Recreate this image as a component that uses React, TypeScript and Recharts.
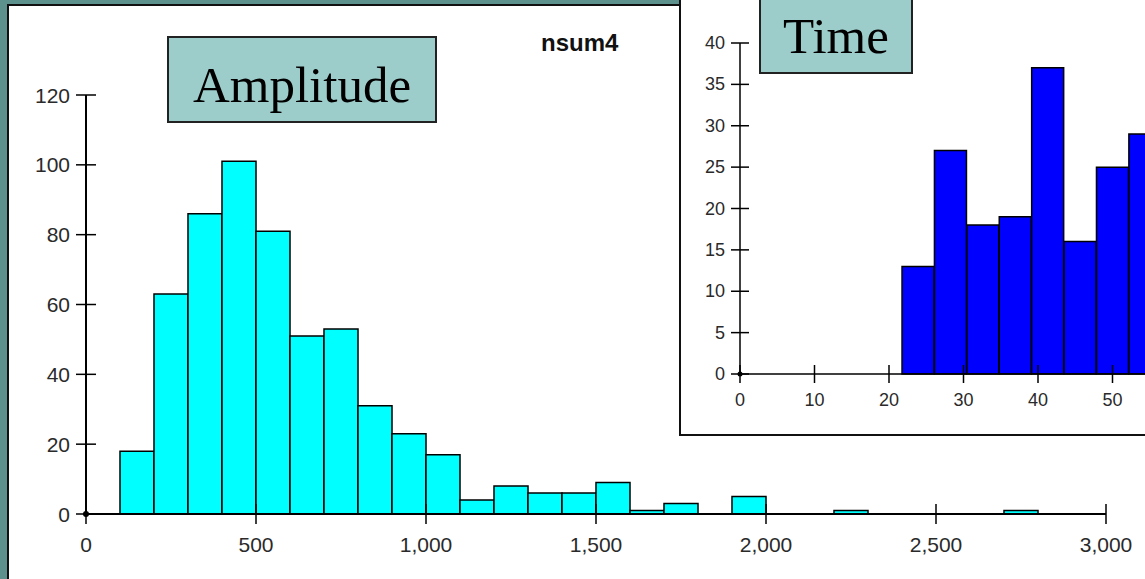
import { ComposedChart, Bar, XAxis, YAxis, ReferenceDot } from "recharts";

// Amplitude histogram (nsum4), bins of 100
const ampBinStart = [
  0, 100, 200, 300, 400, 500, 600, 700, 800, 900,
  1000, 1100, 1200, 1300, 1400, 1500, 1600, 1700, 1800, 1900,
  2000, 2100, 2200, 2300, 2400, 2500, 2600, 2700, 2800, 2900,
];
const ampCounts = [
  0, 18, 63, 86, 101, 81, 51, 53, 31, 23,
  17, 4, 8, 6, 6, 9, 1, 3, 0, 5,
  0, 0, 1, 0, 0, 0, 0, 1, 0, 0,
];
const AMP_BIN = 100;
const ampXTicks = [0, 500, 1000, 1500, 2000, 2500, 3000];
const ampYTicks = [0, 20, 40, 60, 80, 100, 120];

// Time histogram (inset)
const timeBinStart = [21.75, 26.1, 30.45, 34.8, 39.15, 43.5, 47.85, 52.2];
const timeCounts = [13, 27, 18, 19, 37, 16, 25, 29];
const TIME_BIN = 4.35;
const timeXTicks = [0, 10, 20, 30, 40, 50];
const timeYTicks = [0, 5, 10, 15, 20, 25, 30, 35, 40];

const ampData = ampBinStart.map((s, i) => ({ mid: s + AMP_BIN / 2, count: ampCounts[i] }));
const timeData = timeBinStart.map((s, i) => ({ mid: s + TIME_BIN / 2, count: timeCounts[i] }));

const TEAL = "#5c918e";
const BOX = "#9dcdcb";
const TICK_FONT = "'Liberation Sans', Arial, sans-serif";

const fmt = (v: number) => v.toLocaleString("en-US");

function makeXTick(len: number, dy: number, fs: number) {
  return (p: any) => (
    <g>
      <line x1={p.x} x2={p.x} y1={p.y - len} y2={p.y + len} stroke="#000" strokeWidth={1.5} />
      <text x={p.x} y={p.y + dy} textAnchor="middle" dominantBaseline="central" fontSize={fs} fontFamily={TICK_FONT} fill="#2a2a2a">
        {fmt(p.payload.value)}
      </text>
    </g>
  );
}

function makeYTick(len: number, dx: number, fs: number) {
  return (p: any) => (
    <g>
      <line x1={p.x - len} x2={p.x + len} y1={p.y} y2={p.y} stroke="#000" strokeWidth={1.5} />
      <text x={p.x - dx} y={p.y} textAnchor="end" dominantBaseline="central" fontSize={fs} fontFamily={TICK_FONT} fill="#2a2a2a">
        {fmt(p.payload.value)}
      </text>
    </g>
  );
}

function LabelBox({ left, top, width, height, text, baseline }: any) {
  return (
    <div
      style={{
        position: "absolute", left, top, width, height, boxSizing: "border-box",
        background: BOX, border: "2px solid #222",
      }}
    >
      <svg width={width} height={height} style={{ position: "absolute", left: -2, top: -2 }}>
        <text x={width / 2} y={baseline} textAnchor="middle" fontSize={51} fontFamily="'Liberation Serif', 'Times New Roman', serif" fill="#000">
          {text}
        </text>
      </svg>
    </div>
  );
}

export default function App() {
  return (
    <div style={{ position: "fixed", left: 0, top: 0, width: 1145, height: 579, overflow: "hidden", background: TEAL }}>
      {/* main panel */}
      <div style={{ position: "absolute", left: 7, top: 4, width: 1200, height: 620, background: "#fff", border: "2px solid #111" }} />

      <div style={{ position: "absolute", left: 0, top: 0 }}>
        <ComposedChart width={1145} height={579} data={ampData} barCategoryGap={0} barGap={0}
          margin={{ top: 95, right: 39, bottom: 15, left: 26 }}>
          <XAxis dataKey="mid" type="number" domain={[0, 3000]} ticks={ampXTicks} allowDataOverflow
            height={50} tickSize={0} tickMargin={0} tickLine={false}
            axisLine={{ stroke: "#000", strokeWidth: 2 }} tick={makeXTick(10, 30, 21)} interval={0} />
          <YAxis type="number" domain={[0, 120]} ticks={ampYTicks} width={60} tickSize={0} tickMargin={0}
            tickLine={false} axisLine={{ stroke: "#000", strokeWidth: 2 }} tick={makeYTick(10, 16, 21)} interval={0} />
          <Bar dataKey="count" fill="#00ffff" stroke="#000" strokeWidth={1.5} isAnimationActive={false} />
          <ReferenceDot x={0} y={0} r={3} fill="#000" stroke="none" />
        </ComposedChart>
      </div>

      <LabelBox left={167} top={36} width={270} height={87} text="Amplitude" baseline={66} />

      <div style={{ position: "absolute", left: 541, top: 28, fontFamily: "'Liberation Sans', Arial, sans-serif", fontWeight: "bold", fontSize: 24, color: "#111", lineHeight: "30px" }}>
        nsum4
      </div>

      {/* inset panel */}
      <div style={{ position: "absolute", left: 679, top: -20, width: 520, height: 456, boxSizing: "border-box", background: "#fff", border: "2px solid #111" }} />

      <div style={{ position: "absolute", left: 680, top: 0 }}>
        <ComposedChart width={520} height={436} data={timeData} barCategoryGap={0} barGap={0}
          margin={{ top: 43, right: 13, bottom: 12, left: 0 }}>
          <XAxis dataKey="mid" type="number" domain={[0, 60]} ticks={timeXTicks} allowDataOverflow
            height={50} tickSize={0} tickMargin={0} tickLine={false}
            axisLine={{ stroke: "#000", strokeWidth: 1.5 }} tick={makeXTick(9, 26, 18)} interval={0} />
          <YAxis type="number" domain={[0, 40]} ticks={timeYTicks} width={60} tickSize={0} tickMargin={0}
            tickLine={false} axisLine={{ stroke: "#000", strokeWidth: 1.5 }} tick={makeYTick(9, 15, 18)} interval={0} />
          <Bar dataKey="count" fill="#0000ff" stroke="#000" strokeWidth={1.5} isAnimationActive={false} />
          <ReferenceDot x={0} y={0} r={2.5} fill="#000" stroke="none" />
        </ComposedChart>
      </div>

      <LabelBox left={759} top={-4} width={154} height={78} text="Time" baseline={57} />
    </div>
  );
}
